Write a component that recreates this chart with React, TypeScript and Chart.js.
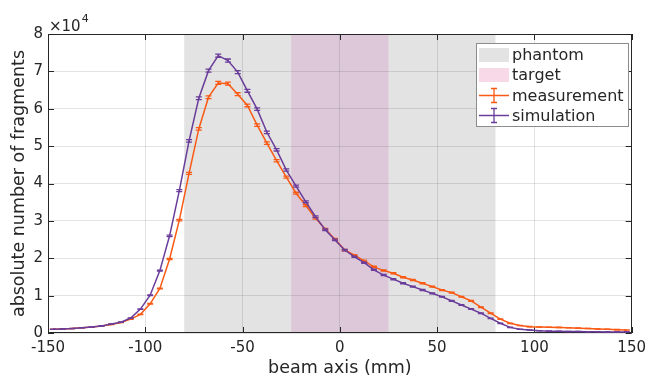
import React, { useEffect, useRef } from 'react';
import { Chart, registerables } from 'chart.js';

Chart.register(...registerables);

// ---- data ----
const binCenters = [
  -147.5, -142.5, -137.5, -132.5, -127.5, -122.5, -117.5, -112.5, -107.5, -102.5,
  -97.5, -92.5, -87.5, -82.5, -77.5, -72.5, -67.5, -62.5, -57.5, -52.5,
  -47.5, -42.5, -37.5, -32.5, -27.5, -22.5, -17.5, -12.5, -7.5, -2.5,
  2.5, 7.5, 12.5, 17.5, 22.5, 27.5, 32.5, 37.5, 42.5, 47.5,
  52.5, 57.5, 62.5, 67.5, 72.5, 77.5, 82.5, 87.5, 92.5, 97.5,
  102.5, 107.5, 112.5, 117.5, 122.5, 127.5, 132.5, 137.5, 142.5, 147.5,
];

const measurement = [
  1000, 1100, 1200, 1400, 1600, 1900, 2300, 2800, 3700, 5000,
  7800, 11900, 19800, 30200, 42700, 54600, 63100, 66900, 66700, 63900,
  60900, 55600, 50800, 46100, 41700, 37400, 34100, 30700, 27800, 25100,
  22200, 20800, 19300, 17700, 16700, 16000, 14900, 14200, 13300, 12400,
  11500, 10800, 9700, 8600, 6900, 5300, 3700, 2600, 2000, 1700,
  1600, 1550, 1500, 1400, 1300, 1200, 1100, 1000, 900, 800,
];

const measurementErr = [
  30, 30, 30, 30, 30, 40, 40, 50, 60, 70,
  90, 120, 160, 220, 280, 330, 370, 400, 400, 380,
  360, 340, 320, 300, 280, 260, 250, 240, 220, 210,
  200, 190, 180, 170, 160, 160, 150, 150, 140, 140,
  130, 130, 120, 110, 100, 90, 70, 60, 50, 50,
  40, 40, 40, 40, 40, 40, 30, 30, 30, 30,
];

const simulation = [
  1000, 1100, 1200, 1400, 1600, 1900, 2400, 2900, 4000, 6400,
  10100, 16700, 26000, 38100, 51400, 62800, 70200, 74200, 72900, 69800,
  64800, 59900, 53700, 49000, 43600, 39300, 35100, 31100, 27600, 24900,
  22200, 20400, 18800, 16900, 15500, 14400, 13300, 12400, 11500, 10600,
  9700, 8600, 7500, 6400, 5300, 3900, 2600, 1500, 1000, 800,
  600, 500, 450, 400, 400, 350, 350, 300, 300, 300,
];

const simulationErr = [
  30, 30, 30, 30, 30, 40, 40, 50, 60, 80,
  100, 140, 190, 250, 320, 370, 400, 420, 410, 400,
  380, 360, 330, 310, 290, 270, 250, 230, 220, 210,
  200, 190, 180, 170, 160, 150, 150, 140, 140, 130,
  120, 120, 110, 100, 90, 80, 60, 50, 40, 30,
  30, 30, 30, 30, 30, 30, 30, 30, 30, 30,
];

const phantomRange = [-80, 80];
const targetRange = [-25, 25];
const xTickValues = [-150, -100, -50, 0, 50, 100, 150];
const yTickValues = [0, 10000, 20000, 30000, 40000, 50000, 60000, 70000, 80000];
const seriesLabels = ['measurement', 'simulation'];
const bandLabels = ['phantom', 'target'];

// ---- styles ----
const ORANGE = '#f95a14';
const PURPLE = '#6a3d9a';
const GRAY_BAND = '#e3e3e3';
const TARGET_OVER = '#dcc8d8';
const TARGET_SWATCH = '#f7d9e8';
const AXIS = '#262626';
const FONT = '"DejaVu Sans", sans-serif';

const errs = [measurementErr, simulationErr];
const colors = [ORANGE, PURPLE];

function drawErrorCaps(ctx: CanvasRenderingContext2D, x: number, yTop: number, yBot: number, color: string, half: number) {
  ctx.save();
  ctx.strokeStyle = color;
  ctx.lineWidth = 1.3;
  ctx.beginPath();
  ctx.moveTo(x, yTop);
  ctx.lineTo(x, yBot);
  ctx.moveTo(x - half, yTop);
  ctx.lineTo(x + half, yTop);
  ctx.moveTo(x - half, yBot);
  ctx.lineTo(x + half, yBot);
  ctx.stroke();
  ctx.restore();
}

const customPlugin = {
  id: 'custom',
  beforeDraw(chart: any) {
    const { ctx, chartArea, scales } = chart;
    const xs = scales.x;
    ctx.save();
    ctx.fillStyle = '#ffffff';
    ctx.fillRect(0, 0, chart.width, chart.height);
    const p0 = xs.getPixelForValue(phantomRange[0]);
    const p1 = xs.getPixelForValue(phantomRange[1]);
    ctx.fillStyle = GRAY_BAND;
    ctx.fillRect(p0, chartArea.top, p1 - p0, chartArea.bottom - chartArea.top);
    const t0 = xs.getPixelForValue(targetRange[0]);
    const t1 = xs.getPixelForValue(targetRange[1]);
    ctx.fillStyle = TARGET_OVER;
    ctx.fillRect(t0, chartArea.top, t1 - t0, chartArea.bottom - chartArea.top);
    ctx.restore();
  },
  beforeDatasetsDraw(chart: any) {
    const { ctx, chartArea, scales } = chart;
    const { left, right, top, bottom } = chartArea;
    ctx.save();
    ctx.strokeStyle = AXIS;
    ctx.lineWidth = 1;
    ctx.strokeRect(Math.round(left) + 0.5, Math.round(top) + 0.5, Math.round(right - left) - 1, Math.round(bottom - top) - 1);
    const tl = 6;
    ctx.beginPath();
    xTickValues.forEach((v) => {
      const px = Math.round(scales.x.getPixelForValue(v)) + 0.5;
      ctx.moveTo(px, bottom);
      ctx.lineTo(px, bottom - tl);
      ctx.moveTo(px, top);
      ctx.lineTo(px, top + tl);
    });
    yTickValues.forEach((v) => {
      const py = Math.round(scales.y.getPixelForValue(v)) + 0.5;
      ctx.moveTo(left, py);
      ctx.lineTo(left + tl, py);
      ctx.moveTo(right, py);
      ctx.lineTo(right - tl, py);
    });
    ctx.stroke();
    // exponent label
    ctx.fillStyle = AXIS;
    ctx.textBaseline = 'middle';
    ctx.textAlign = 'left';
    ctx.font = `15px ${FONT}`;
    ctx.fillText('×10', left + 1, 27);
    const w = ctx.measureText('×10').width;
    ctx.font = `11px ${FONT}`;
    ctx.fillText('4', left + 1 + w + 1, 19);
    ctx.restore();
  },
  afterDatasetDraw(chart: any, args: any) {
    const { ctx, scales } = chart;
    const i = args.index;
    const data = chart.data.datasets[i].data as { x: number; y: number }[];
    const e = errs[i];
    data.forEach((pt, k) => {
      const px = scales.x.getPixelForValue(pt.x);
      const yt = scales.y.getPixelForValue(pt.y + e[k]);
      const yb = scales.y.getPixelForValue(pt.y - e[k]);
      drawErrorCaps(ctx, px, yt, yb, colors[i], 3);
    });
  },
  afterDraw(chart: any) {
    const { ctx } = chart;
    ctx.save();
    const bx = 476, by = 43, bw = 152, bh = 83;
    ctx.fillStyle = '#ffffff';
    ctx.fillRect(bx, by, bw, bh);
    ctx.strokeStyle = '#8c8c8c';
    ctx.lineWidth = 1;
    ctx.strokeRect(bx + 0.5, by + 0.5, bw, bh);
    const sx0 = 479, sx1 = 509;
    const rows = [55, 75, 95.5, 115.5];
    ctx.fillStyle = GRAY_BAND;
    ctx.fillRect(sx0, rows[0] - 7, sx1 - sx0, 14);
    ctx.fillStyle = TARGET_SWATCH;
    ctx.fillRect(sx0, rows[1] - 7, sx1 - sx0, 14);
    [0, 1].forEach((s) => {
      const y = rows[2 + s];
      ctx.strokeStyle = colors[s];
      ctx.lineWidth = 1.5;
      ctx.beginPath();
      ctx.moveTo(sx0, y);
      ctx.lineTo(sx1, y);
      ctx.stroke();
      drawErrorCaps(ctx, (sx0 + sx1) / 2, y - 7, y + 7, colors[s], 3);
    });
    ctx.fillStyle = AXIS;
    ctx.font = `16px ${FONT}`;
    ctx.textAlign = 'left';
    ctx.textBaseline = 'middle';
    const labels = [...bandLabels, ...seriesLabels];
    labels.forEach((l, k) => ctx.fillText(l, 512, rows[k] + 1));
    ctx.restore();
  },
};

export default function App() {
  const ref = useRef<HTMLCanvasElement | null>(null);
  useEffect(() => {
    document.body.style.margin = '0';
    const canvas = ref.current!;
    const chart = new Chart(canvas, {
      type: 'line',
      data: {
        datasets: [
          {
            label: seriesLabels[0],
            data: binCenters.map((x, i) => ({ x, y: measurement[i] })),
            borderColor: ORANGE,
            borderWidth: 1.5,
            pointRadius: 0,
            tension: 0,
            fill: false,
            order: 1,
          },
          {
            label: seriesLabels[1],
            data: binCenters.map((x, i) => ({ x, y: simulation[i] })),
            borderColor: PURPLE,
            borderWidth: 1.5,
            pointRadius: 0,
            tension: 0,
            fill: false,
            order: 0,
          },
        ],
      },
      options: {
        animation: false,
        responsive: false,
        events: [],
        layout: { padding: { top: 34, right: 17, left: 0, bottom: 0 } },
        plugins: { legend: { display: false }, tooltip: { enabled: false } },
        scales: {
          x: {
            type: 'linear',
            min: -150,
            max: 150,
            afterFit: (s: any) => { s.height = 44; },
            afterBuildTicks: (s: any) => { s.ticks = xTickValues.map((v) => ({ value: v })); },
            ticks: {
              color: AXIS,
              font: { family: FONT, size: 15 },
              padding: 6,
              maxRotation: 0,
              callback: (v: any) => String(v),
            },
            grid: { color: 'rgba(38,38,38,0.13)', drawTicks: false, lineWidth: 1 },
            border: { display: false },
            title: {
              display: true,
              text: 'beam axis (mm)',
              color: AXIS,
              font: { family: FONT, size: 17.5 },
              padding: { top: 0, bottom: -1.5 },
            },
          },
          y: {
            type: 'linear',
            min: 0,
            max: 80000,
            afterFit: (s: any) => { s.width = 48; },
            afterBuildTicks: (s: any) => { s.ticks = yTickValues.map((v) => ({ value: v })); },
            ticks: {
              color: AXIS,
              font: { family: FONT, size: 15 },
              padding: 5,
              callback: (v: any) => String(Number(v) / 10000),
            },
            grid: { color: 'rgba(38,38,38,0.13)', drawTicks: false, lineWidth: 1 },
            border: { display: false },
            title: {
              display: true,
              text: 'absolute number of fragments',
              color: AXIS,
              font: { family: FONT, size: 17.5 },
              padding: { top: 9, bottom: 0 },
            },
          },
        },
      },
      plugins: [customPlugin],
    });
    return () => chart.destroy();
  }, []);
  return (
    <div style={{ position: 'fixed', left: 0, top: 0, width: 652, height: 377 }}>
      <canvas ref={ref} width={652} height={377} style={{ display: 'block', width: 652, height: 377 }} />
    </div>
  );
}
